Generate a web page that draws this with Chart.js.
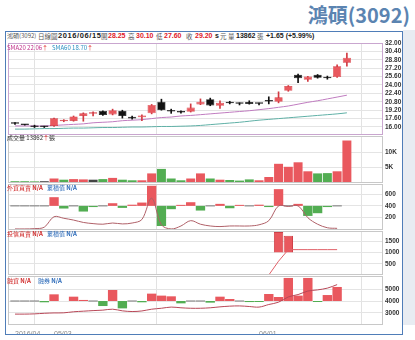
<!DOCTYPE html>
<html><head><meta charset="utf-8">
<script src="https://cdn.jsdelivr.net/npm/chart.js@4.4.0/dist/chart.umd.min.js"></script>
<style>
html,body{margin:0;padding:0;background:#fff;width:415px;height:340px;overflow:hidden;position:relative;font-family:"Liberation Sans",Arial,sans-serif}
.a{position:absolute;white-space:nowrap;line-height:10px}
.cj{font-family:"Noto Sans CJK TC",sans-serif}
canvas{position:absolute;left:8px}
</style></head><body>
<div class="a cj" style="right:5px;top:5px;font-size:20px;line-height:20px;font-weight:bold;color:#5b84b1">鴻碩(3092)</div>
<div style="position:absolute;left:403px;top:30px;width:12px;height:295px;background:#e8ecf2"></div>

<div class="a cj" style="left:7px;top:31px;font-size:6px;color:#555">鴻碩(3092)</div>
<div class="a cj" style="left:38px;top:31px;font-size:6.5px;color:#555">日線圖</div>
<div class="a" style="left:58px;top:31px;font-size:7.5px;font-weight:bold;color:#222;letter-spacing:0.6px">2016/06/15</div>
<div class="a cj" style="left:101px;top:31px;font-size:6.5px;color:#555">開</div>
<div class="a" style="left:108px;top:31px;font-size:7px;font-weight:bold;color:#e0202a">28.25</div>
<div class="a cj" style="left:128px;top:31px;font-size:6.5px;color:#555">高</div>
<div class="a" style="left:136px;top:31px;font-size:7px;font-weight:bold;color:#e0202a">30.10</div>
<div class="a cj" style="left:156px;top:31px;font-size:6.5px;color:#555">低</div>
<div class="a" style="left:164px;top:31px;font-size:7px;font-weight:bold;color:#e0202a">27.60</div>
<div class="a cj" style="left:186px;top:31px;font-size:6.5px;color:#555">收</div>
<div class="a" style="left:195px;top:31px;font-size:7px;font-weight:bold;color:#e0202a">29.20</div>
<div class="a" style="left:215px;top:31px;font-size:7px;font-weight:bold;color:#222">s</div>
<div class="a cj" style="left:220px;top:31px;font-size:6.5px;color:#555">元</div>
<div class="a cj" style="left:228px;top:31px;font-size:6.5px;color:#555">量</div>
<div class="a" style="left:236px;top:31px;font-size:7px;font-weight:bold;color:#222">13862</div>
<div class="a cj" style="left:257px;top:31px;font-size:6.5px;color:#555">張</div>
<div class="a" style="left:266px;top:31px;font-size:7px;font-weight:bold;color:#222">+1.65 (+5.99%)</div>

<canvas id="c1" width="394" height="104" style="top:37px"></canvas>
<canvas id="c2" width="394" height="59" style="top:130px"></canvas>
<canvas id="c3" width="394" height="58" style="top:178px"></canvas>
<canvas id="c4" width="394" height="56" style="top:225px"></canvas>
<canvas id="c5" width="394" height="65" style="top:270px"></canvas>

<div class="a cj" style="left:7px;top:43px;font-size:6px;color:#c0308a">SMA20 22.06<span style="color:#e02020">↑</span></div>
<div class="a cj" style="left:52px;top:43px;font-size:6px;color:#2a8fc0">SMA60 18.70<span style="color:#e02020">↑</span></div>
<div class="a cj" style="left:7px;top:133px;font-size:6px;color:#333">成交量 13862<span style="color:#e02020">↑</span>張</div>
<div class="a cj" style="left:7px;top:183px;font-size:6px;color:#d02828">外資買賣 <b>N/A</b></div>
<div class="a cj" style="left:47px;top:183px;font-size:6px;color:#2868b8">累積值 <b>N/A</b></div>
<div class="a cj" style="left:7px;top:229px;font-size:6px;color:#d02828">投信買賣 <b>N/A</b></div>
<div class="a cj" style="left:47px;top:229px;font-size:6px;color:#2868b8">累積值 <b>N/A</b></div>
<div class="a cj" style="left:7px;top:276px;font-size:6px;color:#d02828">融資 <b>N/A</b></div>
<div class="a cj" style="left:38px;top:276px;font-size:6px;color:#2868b8">融券 <b>N/A</b></div>

<div style="position:absolute;left:5px;top:31px;width:396px;height:302px;border:1.5px solid #4f7db8"></div>

<script>
// ---------- data ----------
const dates = ['04/26','04/27','04/28','04/29','05/03','05/04','05/05','05/06','05/09','05/10','05/11','05/12','05/13','05/16','05/17','05/18','05/19','05/20','05/23','05/24','05/25','05/26','05/27','05/30','05/31','06/01','06/02','06/03','06/04','06/06','06/07','06/08','06/13','06/14','06/15'];
const opens  = [16.8,16.45,16.3,16.1,16.2,17.1,17.15,18.1,18.5,19.05,18.4,19.1,17.95,17.85,18.6,20.8,19.2,19.0,18.9,20.3,21.3,20.05,20.8,20.55,20.75,20.5,21.1,20.8,22.9,25.95,25.0,25.95,25.45,25.5,28.25];
const highs  = [16.85,16.5,16.35,16.15,17.7,17.4,18.1,18.7,18.9,19.1,19.4,19.2,18.1,18.3,20.3,21.3,19.4,19.1,20.4,21.35,21.5,21.0,20.9,20.6,21.0,20.55,21.75,22.7,23.9,26.1,25.65,26.0,25.7,27.85,30.1];
const lows   = [16.5,16.35,15.9,15.9,16.1,17.0,17.1,17.1,18.1,18.2,18.3,17.7,17.5,17.2,18.5,19.2,18.6,18.65,18.85,20.25,20.05,19.55,20.4,20.2,20.35,20.2,20.4,20.6,22.8,24.45,24.7,25.3,25.1,25.45,27.6];
const closes = [16.6,16.4,16.0,16.0,17.65,17.3,18.0,18.6,18.6,18.3,19.2,18.1,17.6,18.2,20.2,19.25,18.95,18.75,19.7,20.8,20.1,20.6,20.5,20.45,20.4,20.45,20.85,21.65,23.8,25.3,25.6,25.4,25.3,27.55,29.2];
const prevClose = 16.8;
const sma20 = [16.2,16.2,16.2,16.2,16.3,16.4,16.5,16.6,16.8,16.9,17.0,17.2,17.3,17.4,17.6,17.8,17.9,18.1,18.2,18.35,18.5,18.65,18.8,18.95,19.1,19.3,19.5,19.75,20.0,20.35,20.7,21.0,21.35,21.7,22.06];
const sma60 = [15.6,15.6,15.65,15.7,15.7,15.75,15.8,15.8,15.85,15.9,15.9,15.95,16.0,16.0,16.05,16.1,16.1,16.15,16.2,16.3,16.45,16.6,16.75,16.9,17.1,17.3,17.45,17.6,17.75,17.9,18.05,18.2,18.35,18.5,18.7];
const volumes = [300,300,250,300,1200,800,1000,900,800,1000,1400,800,600,600,2900,4400,1200,600,1200,2900,1200,800,700,500,900,600,1700,6100,5100,6600,3600,2900,3000,3600,13862];
const foreignNet  = [0,0,0,0,147,-45,0,-96,-20,0,45,-34,20,56,340,-340,-56,10,62,-79,0,34,-40,10,0,20,-20,283,0,34,-170,-124,-20,0,null];
const foreignLine = [10,10,15,40,217,190,160,120,100,90,110,95,110,170,530,80,10,60,150,90,60,50,60,60,60,80,150,400,390,400,200,90,30,20,null];
const trustNet  = [null,null,null,null,null,null,null,null,null,null,null,null,null,null,null,null,null,null,null,null,null,null,null,null,null,null,null,916,752,null,null,null,null,null,null];
const trustLine = [null,null,null,null,null,null,null,null,null,null,null,null,null,null,null,null,null,null,null,null,null,null,null,null,null,null,0,615,1130,1130,1130,1130,1130,1130,null];
const marginNet  = [0,0,0,-110,570,null,370,90,0,-430,940,-630,0,-110,630,460,400,-200,0,0,-140,370,170,0,-90,-50,600,340,1970,460,1970,-50,510,1200,null];
const marginLine = [2880,2880,2900,2950,2980,2990,3080,3130,3180,3220,3300,3160,3100,3150,3300,3380,3480,3420,3380,3380,3420,3500,3560,3580,3530,3480,3700,3900,4350,4550,4850,4950,5100,5400,null];
const priceTicks = [16,17.6,19.2,20.8,22.4,24,25.6,27.2,28.8,30.4,32];
const volTicks = [5000,10000];
const foreignTicks = [200,400,600];
const trustTicks = [500,1000,1500];
const marginTicks = [3000,4000,5000];
const xTickIdx = [0,4,25];
const xTickLabels = ['2016/04','05/03','06/01'];
const foreignBase = 400, trustBase = 1000, marginBase = 4000;

// ---------- helpers ----------
const RED = '#e9585e', GREEN = '#52ad52', BLACK = '#111111', GRAY = '#777777';
const X_MIN = -0.717, X_MAX = 37.7;
const pts = arr => arr.map((v,i)=>({x:i, y:v}));
const signColor = v => v > 0 ? RED : (v < 0 ? GREEN : GRAY);

const framePlugin = {id:'frame', afterDraw(c, a, o){
  const r = c.chartArea, ctx = c.ctx; ctx.save();
  ctx.strokeStyle = o.color || '#c8c8c8'; ctx.lineWidth = 1;
  ctx.strokeRect(Math.round(r.left)+0.5, Math.round(r.top)+0.5, Math.round(r.right-r.left)-1, Math.round(r.bottom-r.top)-1);
  ctx.restore();
}};
Chart.register(framePlugin);

function makeChart(id, datasets, yOpts, extraY, frameColor, showX){
  const scales = {
    x:{type:'linear', min:X_MIN, max:X_MAX, offset:false,
      afterBuildTicks:s=>{ s.ticks = xTickIdx.map(v=>({value:v})); },
      afterFit:s=>{ s.height = showX ? 10 : 0; },
      grid:{color:'#e2e2e2', drawTicks:false}, border:{display:false},
      ticks:{display:showX, autoSkip:false, maxRotation:0, align:'start', padding:5, color:'#8a8a8a', font:{size:7, family:'Liberation Sans'},
        callback:(v,i)=>xTickLabels[i]}},
    y:Object.assign({position:'right',
      afterBuildTicks:s=>{ s.ticks = yOpts.ticks.map(v=>({value:v})); },
      afterFit:s=>{ s.width = 19; },
      grid:{color:'#e4e4e4', drawTicks:false}, border:{display:false},
      ticks:{autoSkip:false, padding:2, color:'#333', font:{size:6.5, weight:'bold', family:'Liberation Sans'}, callback:yOpts.fmt}
    }, {min:yOpts.min, max:yOpts.max})
  };
  if (extraY) scales.yb = Object.assign({display:false}, extraY);
  return new Chart(document.getElementById(id), {
    type:'bar',
    data:{datasets},
    options:{responsive:false, animation:false, events:[],
      layout:{padding:{top:6, bottom: showX ? 0 : 6, left:0, right:0}},
      plugins:{legend:{display:false}, tooltip:{enabled:false}, frame:{color:frameColor}},
      scales}
  });
}

// ---------- price panel ----------
const candleColor = closes.map((c,i)=> c >= opens[i] ? RED : BLACK);
const candleEdge = closes.map((c,i)=> c >= opens[i] ? '#d23a42' : BLACK);
makeChart('c1', [
  {type:'line', data:pts(sma20), borderColor:'#c07cc0', borderWidth:1, pointRadius:0, tension:0.3, order:3},
  {type:'line', data:pts(sma60), borderColor:'#5fb0a6', borderWidth:1, pointRadius:0, tension:0.3, order:3},
  {data:closes.map((c,i)=>({x:i, y:[lows[i], highs[i]]})), backgroundColor:candleEdge, barThickness:1, grouped:false, order:2},
  {data:closes.map((c,i)=>({x:i, y:[opens[i], c]})), backgroundColor:candleColor, borderColor:candleEdge, borderWidth:0.6, borderSkipped:false, barPercentage:0.84, categoryPercentage:1, minBarLength:1.5, grouped:false, order:1}
], {min:14.476, max:32, ticks:priceTicks, fmt:v=>v.toFixed(2)}, null, '#c9a6cf', false);

// ---------- volume ----------
const volColor = closes.map((c,i)=>{ const p = i ? closes[i-1] : prevClose; return c > p ? RED : (c < p ? GREEN : '#444'); });
makeChart('c2', [
  {data:pts(volumes), backgroundColor:volColor, barPercentage:0.92, categoryPercentage:1, grouped:false}
], {min:-300, max:15367, ticks:volTicks, fmt:v=>(v/1000)+'K'}, null, '#c8c8c8', false);

// ---------- foreign ----------
makeChart('c3', [
  {type:'line', data:pts(foreignLine), yAxisID:'y', borderColor:'#b06068', borderWidth:1, pointRadius:0, tension:0.35, order:0},
  {data:pts(foreignNet), yAxisID:'yb', backgroundColor:foreignNet.map(signColor), barPercentage:0.96, categoryPercentage:1, minBarLength:1, grouped:false, order:1}
], {min:-8, max:770, ticks:foreignTicks, fmt:v=>String(v)}, {min:-8-foreignBase, max:770-foreignBase}, '#c8c8c8', false);

// ---------- trust ----------
makeChart('c4', [
  {type:'line', data:pts(trustLine), yAxisID:'y', borderColor:'#e06068', borderWidth:1, pointRadius:0, tension:0, order:0},
  {data:pts(trustNet), yAxisID:'yb', backgroundColor:trustNet.map(signColor), borderColor:'#d04048', borderWidth:1, barPercentage:0.96, categoryPercentage:1, grouped:false, order:1}
], {min:0, max:1960, ticks:trustTicks, fmt:v=>String(v)}, {min:-trustBase, max:1960-trustBase}, '#c8c8c8', false);

// ---------- margin ----------
makeChart('c5', [
  {type:'line', data:pts(marginLine), yAxisID:'y', borderColor:'#b84858', borderWidth:1, pointRadius:0, tension:0.35, order:0},
  {data:pts(marginNet), yAxisID:'yb', backgroundColor:marginNet.map(signColor), barPercentage:0.96, categoryPercentage:1, minBarLength:1, grouped:false, order:1}
], {min:1949, max:6137, ticks:marginTicks, fmt:v=>String(v)}, {min:1949-marginBase, max:6137-marginBase}, '#c8c8c8', true);
</script>
</body></html>
